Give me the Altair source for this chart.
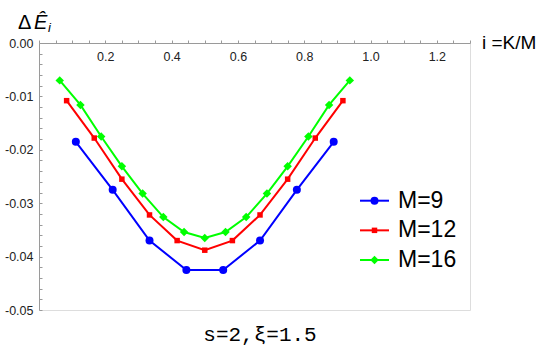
import altair as alt
import pandas as pd

# Series labels, system sizes and colours
series = ["M=9", "M=12", "M=16"]
sizes_m = [9, 12, 16]
colors = ["#0000ff", "#ff0000", "#00ff00"]
shapes = ["circle", "square", "diamond"]
marker_sizes = [64, 30, 72]

# Site index K for each system size and the energy shift at each site
k_9 = [1, 2, 3, 4, 5, 6, 7, 8]
de_9 = [-0.0185, -0.0275, -0.0370, -0.0425, -0.0425, -0.0370, -0.0275, -0.0185]

k_12 = [1, 2, 3, 4, 5, 6, 7, 8, 9, 10, 11]
de_12 = [-0.0108, -0.0178, -0.0255, -0.0322, -0.0370, -0.0388,
         -0.0370, -0.0322, -0.0255, -0.0178, -0.0108]

k_16 = [1, 2, 3, 4, 5, 6, 7, 8, 9, 10, 11, 12, 13, 14, 15]
de_16 = [-0.0070, -0.0116, -0.0175, -0.0231, -0.0282, -0.0326, -0.0354, -0.0365,
         -0.0354, -0.0326, -0.0282, -0.0231, -0.0175, -0.0116, -0.0070]

# Axis tick positions
x_ticks = [round(0.05 * n, 2) for n in range(27)]
y_ticks = [round(-0.002 * n, 3) for n in range(26)]

rows = []
for name, m, ks, des in [(series[0], sizes_m[0], k_9, de_9),
                         (series[1], sizes_m[1], k_12, de_12),
                         (series[2], sizes_m[2], k_16, de_16)]:
    for k, v in zip(ks, des):
        rows.append({"series": name, "i": k / m, "dE": v})
df = pd.DataFrame(rows)
legend_df = pd.DataFrame({"series": series, "row": list(range(len(series)))})

W, H = 431, 267
AXIS_GRAY = "#9a9a9a"
SANS = "Liberation Sans"

x_axis = alt.Axis(
    orient="top", values=x_ticks, title=None, grid=False,
    labelExpr="datum.value > 0.01 && abs(datum.value / 0.2 - round(datum.value / 0.2)) < 1e-6 ? format(datum.value, '.1f') : ''",
    tickSize=3, labelPadding=-10, labelBaseline="top",
    domainColor=AXIS_GRAY, tickColor=AXIS_GRAY, labelColor="#222222",
    labelFont=SANS, labelFontSize=12.5, labelFlush=False, labelOverlap=False,
)
y_axis = alt.Axis(
    orient="right", offset=-W, values=y_ticks, title=None, grid=False,
    labelExpr="abs(datum.value / 0.01 - round(datum.value / 0.01)) < 1e-6 ? replace(format(datum.value, '.2f'), '\u2212', '-') : ''",
    tickSize=3, labelPadding=-9, labelAlign="right", labelBaseline="middle",
    domainColor=AXIS_GRAY, tickColor=AXIS_GRAY, labelColor="#222222",
    labelFont=SANS, labelFontSize=12.5, labelFlush=False, labelOverlap=False,
)

x_enc = alt.X("i:Q", scale=alt.Scale(domain=[0, 1.3], nice=False, zero=False), axis=x_axis)
y_enc = alt.Y("dE:Q", scale=alt.Scale(domain=[-0.05, 0], nice=False, zero=False), axis=y_axis)
color_enc = alt.Color("series:N", scale=alt.Scale(domain=series, range=colors), legend=None)

base = alt.Chart(df)

lines = base.mark_line(strokeWidth=2).encode(x=x_enc, y=y_enc, color=color_enc)

point_layers = []
for name, shp, sz in zip(series, shapes, marker_sizes):
    point_layers.append(
        base.transform_filter(alt.datum.series == name)
        .mark_point(filled=True, opacity=1, shape=shp, size=sz)
        .encode(x=x_enc, y=y_enc, color=color_enc)
    )

plot = alt.layer(lines, *point_layers)

# Legend: one row per series, a short line with the series marker and its label
row_enc = alt.Y("row:Q", scale=alt.Scale(domain=[0, 2], range=[157.7, 217], nice=False, zero=False), axis=None)
lbase = alt.Chart(legend_df)
leg_lines = lbase.mark_rule(strokeWidth=2).encode(
    x=alt.value(321), x2=alt.value(350), y=row_enc, color=color_enc)
leg_points = [
    lbase.transform_filter(alt.datum.series == name)
    .mark_point(filled=True, opacity=1, shape=shp, size=sz)
    .encode(x=alt.value(335.5), y=row_enc, color=color_enc)
    for name, shp, sz in zip(series, shapes, marker_sizes)
]
leg_text = lbase.mark_text(align="left", baseline="middle", font=SANS, fontSize=23, color="#000000").encode(
    x=alt.value(359), y=row_enc, text="series:N")
legend = alt.layer(leg_lines, *leg_points, leg_text)

one = alt.Data(values=[{"a": 1}])


def label(text, x, y, size, font=SANS, style="normal", align="left", baseline="alphabetic"):
    return alt.Chart(one).mark_text(
        text=text, font=font, fontSize=size, fontStyle=style, align=align,
        baseline=baseline, color="#000000",
    ).encode(x=alt.value(x), y=alt.value(y))


y_title = [
    label("\u0394", -21, -14, 20),
    label("\u00ca", -5, -14, 20, style="italic"),
    label("i", 9, -11, 13, style="italic"),
]
x_title = label("i =K/M", 443, 0, 19, baseline="middle")
caption = label("s=2,\u03be=1.5", 221, 292, 21, font="Liberation Mono", align="center", baseline="middle")

chart = alt.layer(
    plot, legend, *y_title, x_title, caption
).resolve_scale(x="independent", y="independent").properties(
    width=W, height=H,
    autosize=alt.AutoSizeParams(type="none"),
    padding={"left": 39, "top": 43, "right": 72, "bottom": 36},
).configure_view(stroke=None).configure(background="white")

chart.save("out.html", embed_options={"renderer": "svg", "actions": False})
